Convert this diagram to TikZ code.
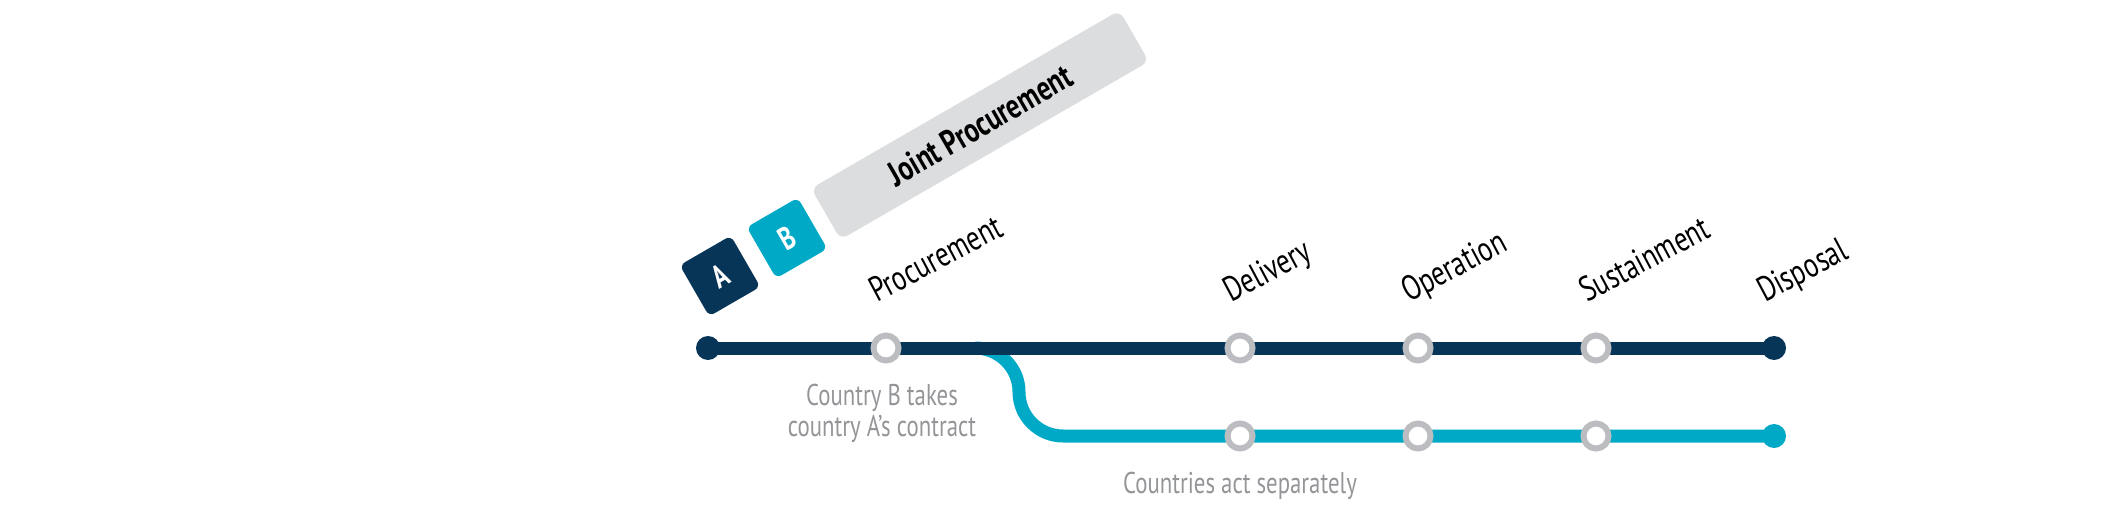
\documentclass[tikz,border=0pt]{standalone}
\usepackage{fontspec}
\setmainfont{PT Sans}[FakeStretch=0.76]
\usetikzlibrary{backgrounds}
\definecolor{navy}{HTML}{063557}
\definecolor{tealc}{HTML}{00AAC7}
\definecolor{ringgray}{HTML}{BCBDC0}
\definecolor{txtgray}{HTML}{939598}
\definecolor{boxgray}{HTML}{DCDDDF}
\tikzset{
  ring/.style={circle, draw=ringgray, line width=6pt, fill=white, minimum size=25pt, inner sep=0pt},
  enddot/.style={circle, fill=#1, minimum size=24pt, inner sep=0pt},
  navyline/.style={navy, line width=13pt},
  tealline/.style={tealc, line width=13pt},
  lab/.style={anchor=base west, rotate=28, inner sep=0pt, text=black, font=\fontsize{35}{37}\selectfont},
  graylab/.style={inner sep=0pt, text=txtgray, font=\fontsize{30}{30.5}\selectfont, align=center},
  sq/.style={fill=#1, rounded corners=6pt, minimum size=59pt, inner sep=0pt, rotate=30, text=white, font=\bfseries\fontsize{32}{34}\selectfont},
  jointbox/.style={fill=boxgray, rounded corners=8pt, minimum width=356pt, minimum height=59pt, inner sep=0pt, rotate=30, text=black, font=\bfseries\fontsize{35}{37}\selectfont}
}
\begin{document}
\begin{tikzpicture}[x=1pt,y=1pt]
\useasboundingbox (0,0) rectangle (2127,512);
% stations top line
\node[enddot=navy] (a0) at (708,164) {};
\node[ring] (a1) at (886,164) {};
\node[ring] (a2) at (1240,164) {};
\node[ring] (a3) at (1418,164) {};
\node[ring] (a4) at (1596,164) {};
\node[enddot=navy] (a5) at (1774,164) {};
% stations bottom line
\coordinate (br) at (975,164);
\node[ring] (b1) at (1240,76) {};
\node[ring] (b2) at (1418,76) {};
\node[ring] (b3) at (1596,76) {};
\node[enddot=tealc] (b4) at (1774,76) {};
\begin{scope}[on background layer]
\draw[tealline] (br) arc[start angle=90,end angle=0,radius=44]
   arc[start angle=180,end angle=270,radius=44] -- (b4.center);
\draw[navyline] (a0.center) -- (a5.center);
\end{scope}
% labels
\node[lab] (lp) at (877,209) {Procurement};
\node[lab] (ld) at (1231,209) {Delivery};
\node[lab] (lo) at (1409,209) {Operation};
\node[lab] (ls) at (1587,209) {Sustainment};
\node[lab] (lx) at (1765,209) {Disposal};
% gray notes
\node[graylab, anchor=north] (n1) at (882,128) {Country B takes\\country A’s contract};
\node[graylab, anchor=base] (n2) at (1240,19) {Countries act separately};
% boxes
\node[sq=navy] (A) at (720,236) {A};
\node[sq=tealc] (B) at (787,274) {B};
\node[jointbox] (J) at (980,387) {Joint Procurement};
\end{tikzpicture}
\end{document}
